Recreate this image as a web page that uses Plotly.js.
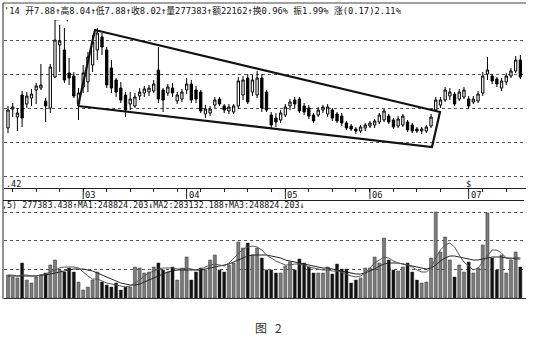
<!DOCTYPE html>
<html><head><meta charset="utf-8">
<script src="https://cdn.plot.ly/plotly-3.0.1.min.js"></script>
<style>html,body{margin:0;padding:0;background:#fff}#c{width:534px;height:345px}</style>
</head><body><div id="c"></div>
<script>
// ---- data ----
const openP = [7.16,7.54,7.38,7.82,7.64,7.76,7.92,7.96,7.70,7.56, 8.18,8.82,8.72,8.26,8.20,7.64,7.98,8.08,8.42,8.72, 8.98,8.72,8.36,8.12,7.96,7.82,7.64,7.60,7.80,7.86, 7.88,7.90,8.32,7.92,7.86,7.96,7.70,7.74,7.92,8.04, 7.92,7.88,7.44,7.46,7.62,7.74,7.60,7.50,7.48,7.60, 7.82,8.16,7.88,7.82,8.16,7.88,7.42,7.36,7.32,7.42, 7.60,7.72,7.74,7.60,7.56,7.42,7.42,7.52,7.44,7.52, 7.44,7.40,7.26,7.20,7.14,7.10,7.16,7.20,7.22,7.28, 7.32,7.40,7.32,7.20,7.22,7.28,7.22,7.14,7.10,7.10, 7.20,7.52,7.62,7.72,7.80,7.84,7.74,7.78,7.74,7.68, 7.70,7.86,8.24,8.20,8.14,7.96,8.08,8.20,8.30,8.52];
const highP = [7.60,7.66,7.56,7.90,7.88,7.94,8.06,8.44,7.76,8.44, 9.32,9.22,9.16,8.56,8.28,7.96,8.42,8.68,9.02,9.16, 9.06,8.78,8.52,8.16,8.08,7.88,7.88,7.86,7.96,8.00, 8.02,8.12,8.78,7.96,8.04,8.06,7.88,7.94,8.16,8.12, 8.00,7.92,7.62,7.60,7.78,7.78,7.64,7.64,7.64,8.18, 8.20,8.24,8.22,8.30,8.24,7.92,7.48,7.46,7.52,7.64, 7.74,7.78,7.78,7.66,7.62,7.46,7.58,7.62,7.64,7.56, 7.48,7.46,7.30,7.24,7.18,7.22,7.26,7.30,7.34,7.46, 7.54,7.44,7.36,7.40,7.44,7.32,7.26,7.18,7.18,7.22, 7.44,7.78,7.78,7.98,7.96,7.88,7.94,7.98,7.80,7.80, 7.90,8.28,8.58,8.24,8.18,8.16,8.26,8.36,8.60,8.62];
const lowP = [7.06,7.38,7.10,7.18,7.56,7.60,7.64,7.92,7.28,7.46, 8.16,8.28,8.06,8.02,7.76,7.32,7.86,7.88,8.28,8.52, 8.62,7.96,7.86,7.78,7.66,7.38,7.52,7.56,7.72,7.78, 7.80,7.86,7.66,7.48,7.80,7.78,7.64,7.68,7.84,7.66, 7.66,7.46,7.36,7.40,7.56,7.60,7.46,7.44,7.44,7.54, 7.72,7.64,7.80,7.76,7.48,7.48,7.16,7.18,7.26,7.38, 7.52,7.56,7.46,7.42,7.34,7.26,7.38,7.46,7.38,7.30, 7.26,7.20,7.12,7.10,7.04,7.06,7.10,7.16,7.16,7.24, 7.28,7.24,7.14,7.16,7.18,7.08,7.06,7.06,7.04,7.06, 7.16,7.48,7.56,7.68,7.72,7.60,7.70,7.74,7.54,7.64, 7.66,7.80,8.12,8.04,7.98,7.90,8.02,8.16,8.26,8.14];
const closeP = [7.52,7.58,7.46,7.36,7.80,7.84,8.00,8.02,7.60,8.38, 8.92,8.90,8.12,8.16,7.80,7.86,8.26,8.58,8.88,9.06, 8.78,8.02,7.96,7.88,7.72,7.52,7.74,7.78,7.88,7.94, 7.96,8.04,7.74,7.72,7.98,7.86,7.82,7.88,8.04,7.72, 7.74,7.50,7.54,7.54,7.72,7.64,7.52,7.58,7.60,8.10, 8.12,7.68,8.12,8.16,7.56,7.52,7.22,7.28,7.46,7.58, 7.68,7.64,7.50,7.48,7.40,7.30,7.52,7.58,7.58,7.36, 7.30,7.26,7.16,7.14,7.10,7.18,7.22,7.26,7.30,7.42, 7.50,7.28,7.18,7.34,7.40,7.12,7.10,7.10,7.14,7.18, 7.38,7.72,7.72,7.92,7.88,7.64,7.88,7.92,7.60,7.74, 7.84,8.20,8.32,8.10,8.04,8.10,8.20,8.30,8.52,8.18];
// volume in thousands
const volK = [161,147,140,245,126,105,147,161,175,231, 266,196,182,210,182,112,56,77,126,182, 112,91,77,105,56,77,77,217,210,175, 182,217,245,196,182,217,126,210,287,126, 182,210,196,266,301,196,182,231,245,392, 350,385,301,350,280,196,196,175,175,224, 252,196,273,245,217,175,175,175,217,168, 238,203,203,105,126,140,210,210,287,245, 420,266,196,189,217,245,182,126,105,112, 280,602,322,427,266,147,231,182,252,175, 210,371,595,280,196,301,175,266,322,217];
const ma1K = [161,161,154,161,161,154,154,161,168,182, 196,210,217,217,217,210,182,154,133,133, 119,105,98,91,84,77,84,105,126,154, 175,189,203,210,210,210,203,203,210,203, 196,203,217,231,238,231,224,245,280,315, 343,357,364,357,336,301,280,259,245,231, 231,238,238,231,217,210,203,196,196,189, 189,182,168,154,147,154,175,210,245,266, 287,280,259,245,238,231,217,196,182,182, 210,280,336,371,385,357,301,252,224,196, 210,252,301,336,336,315,280,273,287,280];
const ma2K = [154,154,154,154,154,154,154,161,161,168, 175,182,189,196,203,203,203,196,189,175, 161,147,133,119,105,98,91,91,98,112, 126,140,154,168,182,189,196,196,196,196, 196,196,203,210,217,224,231,238,252,266, 280,294,301,301,301,301,294,287,280,266, 259,252,245,238,231,224,217,210,210,203, 196,189,182,175,168,168,175,189,203,224, 238,245,245,245,238,231,224,217,210,203, 210,231,259,280,294,294,287,280,273,266, 266,273,280,287,287,287,280,280,273,273];
const tickIdx = [1,6,11,16,21,26,31,36,38,41,46,51,56,59,64,69,74,77,82,87,92,98,101,106];
const yearIdx = [16,38,59,77,98];
const yearLabels = ['03','04','05','06','07'];
// hand-drawn wedge (bar index, price)
const wedgeIdx = [14.9,18.5,91.9,90.2,14.9];
const wedgePrice = [7.60,9.12,7.48,6.78,7.60];
const bracketIdx = [10,12.5,12.7];
const bracketPrice = [9.32,9.34,9.29];
const headerText = "'14 开7.88↑高8.04↑低7.88↑收8.02↑量277383↑额22162↑换0.96% 振1.99% 涨(0.17)2.11%";
const volHeaderText = ",5) 277383.438↑MA1:248824.203↓MA2:283132.188↑MA3:248824.203↓";
const priceLabel = '.42';
const caption = '图   2';

const idx = openP.map((_, i) => i);
const volColors = idx.map(i => closeP[i] >= openP[i] ? '#7c7c7c' : '#111');

const W = 534, H = 345;
const px = v => v / W, py = v => 1 - v / H;
const mono = "DejaVu Sans Mono, Noto Sans CJK SC, monospace";

const traces = [
  {type:'candlestick', x: idx, open: openP, high: highP, low: lowP, close: closeP,
   xaxis:'x', yaxis:'y', whiskerwidth:0,
   increasing:{line:{color:'#000', width:1}, fillcolor:'#fff'},
   decreasing:{line:{color:'#000', width:1}, fillcolor:'#000'},
   hoverinfo:'skip'},
  {type:'scatter', mode:'lines', x: wedgeIdx, y: wedgePrice, xaxis:'x', yaxis:'y',
   line:{color:'#111', width:2.2}, hoverinfo:'skip'},
  {type:'scatter', mode:'lines', x: bracketIdx, y: bracketPrice, xaxis:'x', yaxis:'y',
   line:{color:'#222', width:1}, hoverinfo:'skip'},
  {type:'bar', x: idx, y: volK, xaxis:'x2', yaxis:'y2', marker:{color: volColors, line:{color:'#333', width:0.5}}, hoverinfo:'skip'},
  {type:'scatter', mode:'lines', x: idx, y: ma2K, xaxis:'x2', yaxis:'y2', line:{color:'#222', width:1}, hoverinfo:'skip'},
  {type:'scatter', mode:'lines', x: idx, y: ma1K, xaxis:'x2', yaxis:'y2', line:{color:'#555', width:1}, hoverinfo:'skip'}
];

const xdom = [px(4), px(526)];
const xr = [-0.85, 110.2];
const shapes = [
  {type:'line', xref:'paper', yref:'paper', x0:px(3), x1:px(3), y0:py(3), y1:py(299), line:{color:'#222', width:1}},
  {type:'line', xref:'paper', yref:'paper', x0:px(3), x1:px(526), y0:py(3), y1:py(3), line:{color:'#444', width:1}},
  {type:'line', xref:'paper', yref:'paper', x0:px(3), x1:px(524), y0:py(200.5), y1:py(200.5), line:{color:'#222', width:1}}
];
yearIdx.forEach(v => shapes.push({type:'line', xref:'x', yref:'paper', x0:v, x1:v, y0:py(188), y1:py(199), line:{color:'#222', width:1}}));

const annotations = [
  {xref:'paper', yref:'paper', x:px(2), y:py(11), xanchor:'left', yanchor:'middle', showarrow:false,
   text: headerText, font:{family:mono, size:8.8, color:'#111'}},
  {xref:'paper', yref:'paper', x:px(0), y:py(205), xanchor:'left', yanchor:'middle', showarrow:false,
   text: volHeaderText, font:{family:mono, size:8.4, color:'#111'}},
  {xref:'paper', yref:'paper', x:px(4), y:py(184), xanchor:'left', yanchor:'middle', showarrow:false,
   text: priceLabel, font:{family:mono, size:8.5, color:'#111'}},
  {xref:'x', yref:'paper', x: yearIdx[4], y:py(184), xanchor:'center', yanchor:'middle', showarrow:false,
   text:'$', font:{family:mono, size:8.5, color:'#111'}},
  {xref:'paper', yref:'paper', x:px(268), y:py(327), xanchor:'center', yanchor:'middle', showarrow:false,
   text: caption, font:{family:"Noto Sans CJK SC, sans-serif", size:12, color:'#333'}}
];
yearIdx.forEach((v, k) => annotations.push({xref:'x', yref:'paper', x:v, y:py(194.5), xanchor:'left', yanchor:'middle',
  xshift:0, showarrow:false, text: yearLabels[k], font:{family:mono, size:8.8, color:'#111'}}));

const layout = {
  width:W, height:H, margin:{l:0, r:0, t:0, b:0}, paper_bgcolor:'#fff', plot_bgcolor:'#fff',
  showlegend:false, bargap:0.35,
  xaxis:{domain:xdom, range:xr, anchor:'y', rangeslider:{visible:false}, showgrid:false, zeroline:false,
    showline:true, linecolor:'#222', linewidth:1, tickmode:'array', tickvals: tickIdx, ticktext: tickIdx.map(() => ''),
    ticks:'outside', ticklen:3, tickcolor:'#222', tickwidth:1, fixedrange:true},
  yaxis:{domain:[py(188), py(20)], range:[5.96, 9.32], anchor:'x', showticklabels:false, ticks:'',
    tickmode:'array', tickvals:[6.20, 6.88, 7.56, 8.24, 8.92], showgrid:true, gridcolor:'#555', griddash:'dot',
    gridwidth:1, zeroline:false, showline:false, fixedrange:true},
  xaxis2:{domain:xdom, range:xr, anchor:'y2', showgrid:false, zeroline:false, showticklabels:false, ticks:'',
    showline:true, linecolor:'#333', linewidth:1, fixedrange:true},
  yaxis2:{domain:[py(298), py(210)], range:[0, 616], anchor:'x2', showticklabels:false, ticks:'',
    tickmode:'array', tickvals:[200, 400, 600], showgrid:true, gridcolor:'#555', griddash:'dot', gridwidth:1,
    zeroline:false, showline:false, fixedrange:true},
  shapes: shapes, annotations: annotations
};
Plotly.newPlot('c', traces, layout, {staticPlot:true, displayModeBar:false});
</script></body></html>
